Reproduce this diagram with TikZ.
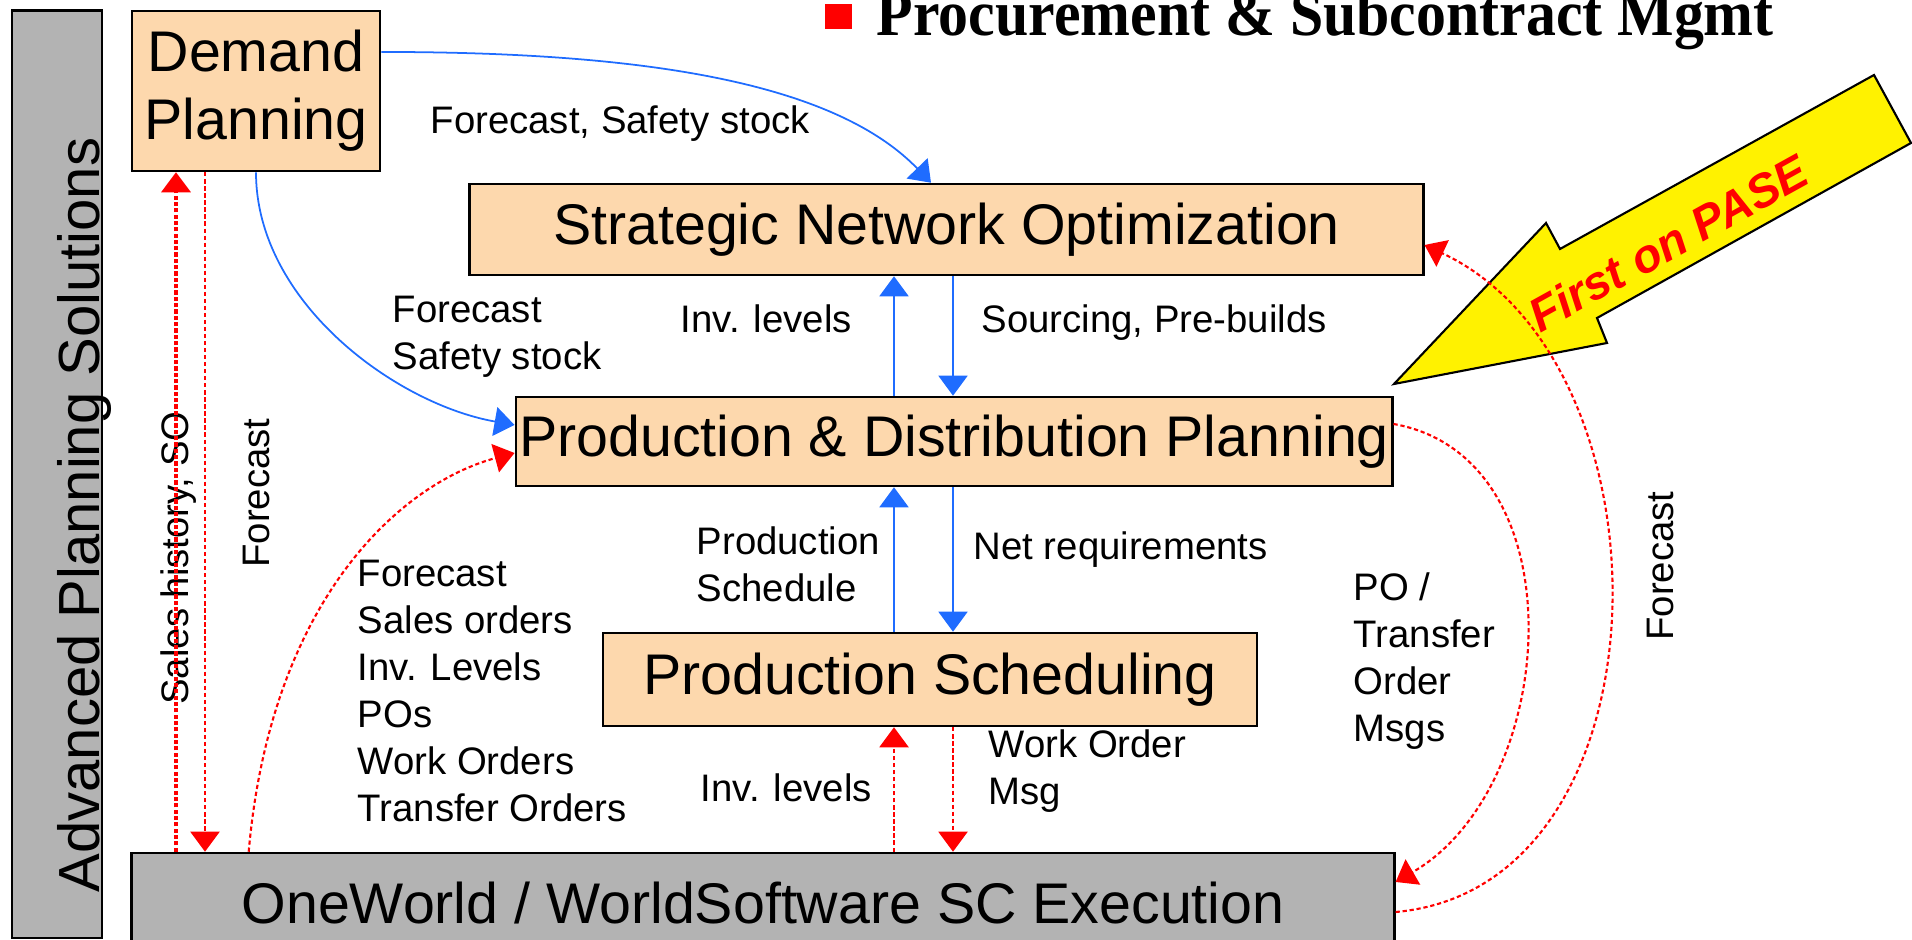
\documentclass[tikz,border=0pt]{standalone}
\usepackage{fontspec}
\setmainfont{Liberation Sans}
\newfontfamily\titlefont[FakeStretch=0.92]{Liberation Serif}
\usepackage{tikz}
\usetikzlibrary{arrows.meta}
\definecolor{peach}{RGB}{253,216,173}
\definecolor{boxgray}{RGB}{179,179,179}
\definecolor{flowblue}{RGB}{31,108,255}
\definecolor{flowred}{RGB}{255,0,0}

\begin{document}
\begin{tikzpicture}[
  x=0.01cm, y=0.01cm,
  box/.style={draw, line width=0.7pt, fill=peach, inner sep=0pt, align=center, font=\fontsize{16.3}{19.3}\selectfont},
  graybox/.style={box, fill=boxgray},
  lbl/.style={inner sep=0pt, anchor=base west, align=left, font=\fontsize{10.9}{13.4}\selectfont},
  arrow/.style={-{Triangle[length=0.2cm, width=0.29cm]}, line width=0.5pt, flowblue},
  redarrow/.style={-{Triangle[length=0.2cm, width=0.29cm]}, line width=0.6pt, flowred, dash pattern=on 1.2pt off 0.8pt}
]
\useasboundingbox (0,0) rectangle (1912,940);
\clip (0,0) rectangle (1912,940);

\node[graybox, minimum width=0.9cm, minimum height=9.27cm] (side) at (57,465.5) {};
\node[rotate=90, anchor=base, inner sep=0pt, font=\fontsize{16.5}{19}\selectfont] (sidetext) at (99,425) {Advanced Planning Solutions};

\node[fill=flowred, minimum width=0.27cm, minimum height=0.25cm, inner sep=0pt] (bullet) at (838.5,923.5) {};
\node[anchor=base west, inner sep=0pt, font=\titlefont\bfseries\fontsize{18.5}{20}\selectfont] (title) at (876,904) {Procurement \& Subcontract Mgmt};

\node[box, minimum width=2.48cm, minimum height=1.6cm] (demand) at (256,849) {Demand\\Planning};
\node[box, minimum width=9.53cm, minimum height=0.91cm] (sno) at (946.5,710.5) {Strategic Network Optimization};
\node[box, minimum width=8.76cm, minimum height=0.89cm] (pdp) at (954,498.5) {Production \& Distribution Planning};
\node[box, minimum width=6.54cm, minimum height=0.93cm] (ps) at (930,260.5) {Production Scheduling};
\node[graybox, minimum width=12.62cm, minimum height=1cm] (ow) at (763,37) {OneWorld / WorldSoftware SC Execution};

\draw[line width=0.6pt, fill=yellow] (1394,556) -- (1607,597) -- (1597,622) -- (1911,797) -- (1874,865) -- (1560,691) -- (1546,717) -- cycle;
\node[rotate=29, inner sep=0pt, text=flowred, font=\bfseries\itshape\fontsize{13.4}{15}\selectfont] (pase) at (1668,697) {First on PASE};

\node[lbl] (fss) at (430,806) {Forecast, Safety stock};
\node[lbl] (fss2) at (392,570) {Forecast\\Safety stock};
\node[lbl] (inv1) at (680,607) {Inv. levels};
\node[lbl] (src) at (981,607) {Sourcing, Pre-builds};
\node[lbl] (psch) at (696,338) {Production\\Schedule};
\node[lbl] (netreq) at (973,380) {Net requirements};
\node[lbl] (owdata) at (357,118) {Forecast\\Sales orders\\Inv. Levels\\POs\\Work Orders\\Transfer Orders};
\node[lbl] (inv2) at (700,138) {Inv. levels};
\node[lbl] (womsg) at (988,135) {Work Order\\Msg};
\node[lbl] (pomsg) at (1353,198) {PO /\\Transfer\\Order\\Msgs};
\node[lbl, rotate=90, anchor=base] (salesh) at (188,382) {Sales history, SO};
\node[lbl, rotate=90, anchor=base] (fcl) at (269,447) {Forecast};
\node[lbl, rotate=90, anchor=base] (fcr) at (1673,374) {Forecast};

\coordinate (upx) at (894,0);
\coordinate (dnx) at (953,0);
\coordinate (shx) at (176,0);
\coordinate (fcx) at (205,0);

\draw[arrow] ([yshift=0.39cm]demand.east) to[out=0, in=134, out distance=2.5cm, in distance=1.44cm] ([xshift=-0.155cm]sno.north);
\draw[arrow] (demand.south) to[out=-90, in=170, out distance=1.3cm, in distance=1.2cm] ([yshift=0.165cm]pdp.west);
\draw[arrow] (upx |- pdp.north) -- (upx |- sno.south);
\draw[arrow] (dnx |- sno.south) -- (dnx |- pdp.north);
\draw[arrow] (upx |- ps.north) -- (upx |- pdp.south);
\draw[arrow] (dnx |- pdp.south) -- (dnx |- ps.north);
\draw[redarrow] (upx |- ow.north) -- (upx |- ps.south);
\draw[redarrow] (dnx |- ps.south) -- (dnx |- ow.north);
\draw[redarrow, line width=1pt, dash pattern=on 1.2pt off 0.6pt] (shx |- ow.north) -- (shx |- demand.south);
\draw[redarrow] (fcx |- demand.south) -- (fcx |- ow.north);
\draw[redarrow] ([xshift=-5.14cm]ow.north) to[out=85, in=195, out distance=2.5cm, in distance=1.2cm] ([yshift=-0.115cm]pdp.west);
\draw[redarrow] ([yshift=0.175cm]pdp.east) to[out=-10, in=30, distance=1.9cm] ([yshift=0.21cm]ow.east);
\draw[redarrow] ([yshift=-0.09cm]ow.east) to[out=5, in=-25, distance=2.8cm] ([yshift=-0.155cm]sno.east);
\end{tikzpicture}
\end{document}
